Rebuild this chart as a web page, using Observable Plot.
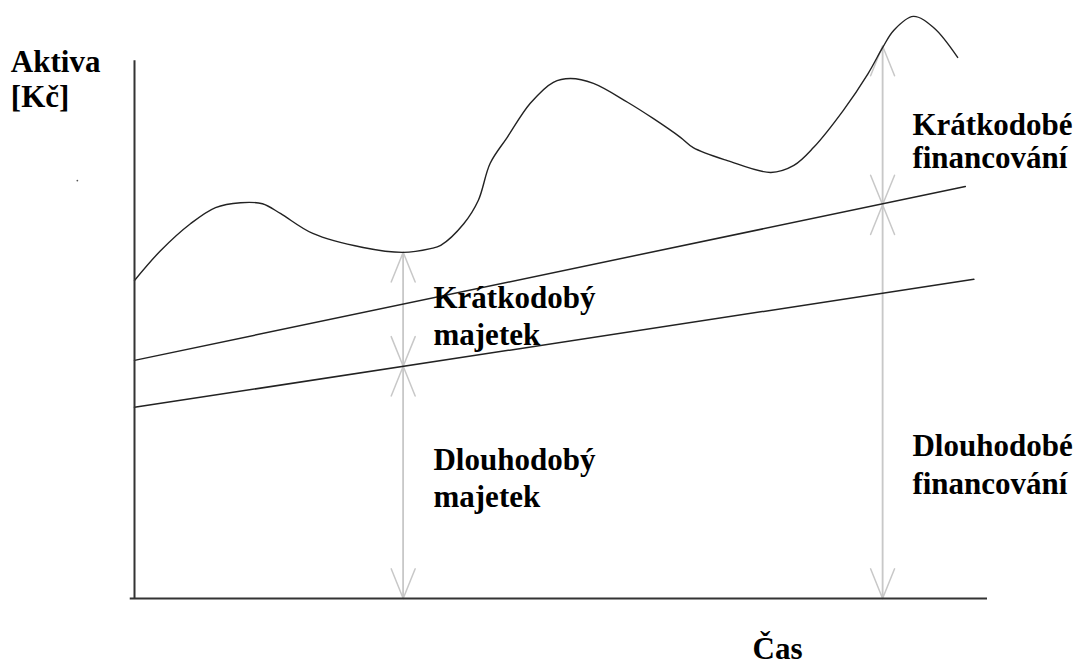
<!DOCTYPE html>
<html><head><meta charset="utf-8">
<script src="https://cdn.jsdelivr.net/npm/d3@7"></script>
<script src="https://cdn.jsdelivr.net/npm/@observablehq/plot@0.6"></script>
<style>body{margin:0;background:#fff}#chart svg{display:block}</style>
</head><body><div id="chart"></div>
<script>
// Total assets curve (time, value)
const curveTime   = [0, 3.05, 6.56, 9.5, 12.43, 15.0, 17.1, 20.9, 26.8, 31.5, 34.7, 35.9, 38.6, 40.3, 41.7, 43.7, 46.4, 49.1, 51.1, 53.8, 57.8, 60.8, 64.0, 65.5, 69.5, 74.6, 77.3, 79.6, 83.1, 86.0, 87.7, 89.0, 91.3, 93.7, 96.5];
const curveAssets = [58.9, 64.4, 69.4, 72.4, 73.3, 73.1, 71.3, 67.6, 65.0, 64.1, 64.8, 65.4, 69.4, 73.7, 80.6, 85.4, 91.7, 95.6, 96.3, 95.4, 91.9, 88.9, 85.4, 83.5, 81.1, 78.9, 80.2, 83.5, 90.4, 97.2, 102.0, 105.2, 107.8, 105.7, 100.2];
// Upper straight line (short-term assets boundary)
const upperTime  = [0, 97.4];
const upperValue = [44.1, 76.3];
// Lower straight line (long-term assets)
const lowerTime  = [0, 98.4];
const lowerValue = [35.4, 59.1];
// Dimension arrows: time, top value, middle value
const arrowTime = [31.5, 87.7];
const arrowTop  = [64.1, 102.3];
const arrowMid  = [43.0, 72.9];
// Labels
const labelText = ["Aktiva\n[Kč]", "Krátkodobý\nmajetek", "Dlouhodobý\nmajetek", "Krátkodobé\nfinancování", "Dlouhodobé\nfinancování", "Čas"];
const labelTime = [-14.5, 35.05, 35.05, 91.2, 91.2, 72.45];
const labelValue = [102.15, 58.5, 28.6, 90.1, 31.3, -7.04];
const labelLineHeight = [1.13, 1.17, 1.18, 1.06, 1.21, 1.0];

const curve = curveTime.map((t, i) => ({t, v: curveAssets[i]}));
const upper = upperTime.map((t, i) => ({t, v: upperValue[i]}));
const lower = lowerTime.map((t, i) => ({t, v: lowerValue[i]}));
const arrows = [];
arrowTime.forEach((t, i) => {
  arrows.push({t, a: arrowTop[i], b: arrowMid[i]});
  arrows.push({t, a: arrowMid[i], b: arrowTop[i]});
  arrows.push({t, a: arrowMid[i], b: 0});
  arrows.push({t, a: 0, b: arrowMid[i]});
});
const labels = labelText.map((s, i) => ({s, t: labelTime[i], v: labelValue[i], lh: labelLineHeight[i]}));

const textOpts = {textAnchor: "start", lineAnchor: "top", fontSize: 31, fontWeight: "bold", fontFamily: "Liberation Serif, Times New Roman, serif", fill: "#000"};

const chart = Plot.plot({
  width: 1083,
  height: 668,
  marginLeft: 134,
  marginRight: 96,
  marginTop: 58,
  marginBottom: 70,
  x: {domain: [0, 100], axis: null},
  y: {domain: [0, 100], axis: null},
  marks: [
    Plot.arrow(arrows, {x1: "t", x2: "t", y1: "a", y2: "b", stroke: "#c8c8c8", strokeWidth: 1.5, headLength: 32, headAngle: 44}),
    Plot.line(upper, {x: "t", y: "v", stroke: "#222", strokeWidth: 1.5}),
    Plot.line(lower, {x: "t", y: "v", stroke: "#222", strokeWidth: 1.5}),
    Plot.line(curve, {x: "t", y: "v", curve: "catmull-rom", stroke: "#222", strokeWidth: 1.4}),
    Plot.ruleX([0], {y1: 0, y2: 99.6, stroke: "#333", strokeWidth: 2}),
    Plot.ruleY([0], {x1: -0.5, x2: 100, stroke: "#333", strokeWidth: 2}),
    Plot.dot([{t: -6.7, v: 77.4}], {x: "t", y: "v", r: 0.9, fill: "#555", stroke: null}),
    ...labels.map(l => Plot.text([l], {...textOpts, x: "t", y: "v", text: "s", lineHeight: l.lh}))
  ]
});
document.getElementById("chart").appendChild(chart);
</script>
</body></html>
